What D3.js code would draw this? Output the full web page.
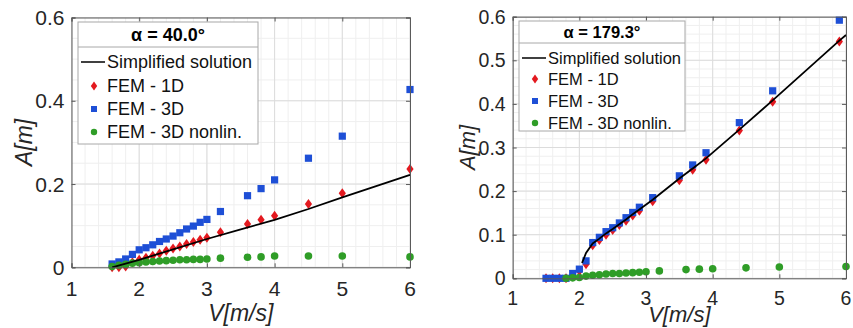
<!DOCTYPE html>
<html>
<head>
<meta charset="utf-8">
<script src="https://cdn.jsdelivr.net/npm/d3@7"></script>
<style>
  body { margin: 0; background: #fff; }
  text { font-family: "Liberation Sans", Arial, sans-serif; }
</style>
</head>
<body>
<script>
// Left panel (alpha = 40.0 deg)
var leftV = [1.6, 1.7, 1.8, 1.9, 2.0, 2.1, 2.2, 2.3, 2.4, 2.5, 2.6, 2.7, 2.8, 2.9, 3.0, 3.2, 3.6, 3.8, 4.0, 4.5, 5.0, 6.0];
var left1D = [0, 0, 0.002, 0.012, 0.018, 0.023, 0.028, 0.033, 0.040, 0.045, 0.050, 0.056, 0.061, 0.066, 0.071, 0.084, 0.104, 0.114, 0.124, 0.152, 0.178, 0.236];
var left3D = [0.008, 0.013, 0.020, 0.031, 0.042, 0.047, 0.054, 0.062, 0.068, 0.075, 0.083, 0.092, 0.099, 0.108, 0.115, 0.134, 0.172, 0.189, 0.210, 0.262, 0.315, 0.427];
var leftNonlin = [0.002, 0.005, 0.007, 0.010, 0.011, 0.013, 0.014, 0.015, 0.016, 0.017, 0.018, 0.018, 0.019, 0.019, 0.020, 0.022, 0.024, 0.025, 0.027, 0.027, 0.027, 0.025];
var leftLineV = [1.6, 1.8, 2.0, 2.5, 3.0, 3.5, 4.0, 4.5, 5.0, 5.5, 6.0];
var leftLineA = [0.0, 0.009, 0.018, 0.043, 0.068, 0.091, 0.114, 0.140, 0.168, 0.195, 0.222];

// Right panel (alpha = 179.3 deg)
var rightV = [1.5, 1.6, 1.7, 1.8, 1.9, 2.0, 2.1, 2.2, 2.3, 2.4, 2.5, 2.6, 2.7, 2.8, 2.9, 3.1, 3.5, 3.7, 3.9, 4.4, 4.9, 5.9];
var right1D = [0, 0, 0, 0, 0.006, 0.017, 0.032, 0.076, 0.088, 0.100, 0.111, 0.122, 0.132, 0.144, 0.155, 0.177, 0.225, 0.249, 0.272, 0.339, 0.405, 0.543];
var right3D = [0, 0, 0, 0, 0.011, 0.021, 0.040, 0.082, 0.094, 0.107, 0.116, 0.127, 0.139, 0.151, 0.163, 0.185, 0.235, 0.260, 0.288, 0.357, 0.430, 0.592];
var rightNonlinV = [1.8, 1.9, 2.0, 2.1, 2.2, 2.3, 2.4, 2.5, 2.6, 2.7, 2.8, 2.9, 3.0, 3.2, 3.6, 3.8, 4.0, 4.5, 5.0, 6.0];
var rightNonlin = [0.0, 0.001, 0.002, 0.005, 0.007, 0.008, 0.010, 0.011, 0.011, 0.012, 0.013, 0.014, 0.015, 0.017, 0.020, 0.021, 0.022, 0.024, 0.026, 0.027];
var rightLineV = [2.04, 2.1, 2.2, 2.3, 2.4, 2.5, 2.6, 2.7, 2.8, 2.9, 3.1, 3.5, 3.7, 3.9, 4.4, 4.9, 5.9, 6.0];
var rightLineA = [0.035, 0.058, 0.080, 0.091, 0.103, 0.113, 0.124, 0.135, 0.147, 0.158, 0.180, 0.229, 0.252, 0.275, 0.341, 0.408, 0.545, 0.558];

var xTicks = [1, 2, 3, 4, 5, 6];
var leftYTicks = [0, 0.2, 0.4, 0.6];
var rightYTicks = [0, 0.1, 0.2, 0.3, 0.4, 0.5, 0.6];
var legendNames = ['Simplified solution', 'FEM - 1D', 'FEM - 3D', 'FEM - 3D nonlin.'];

var red = '#e3191f', blue = '#1e4fd6', green = '#2f9d27';

var svg = d3.select('body').append('svg')
    .attr('width', 853)
    .attr('height', 328);

// diamond marker path, half width w and half height h
function diamond(w, h) {
    return `M0,${-h}L${w},0L0,${h}L${-w},0Z`;
}

function drawPanel(p) {
    var x = d3.scaleLinear().domain([1, 6]).range([p.left, p.right]);
    var y = d3.scaleLinear().domain([0, 0.6]).range([p.bottom, p.top]);
    var g = svg.append('g');

    // minor grid
    g.append('g').selectAll('line')
        .data(d3.range(1, 6.001, 0.2))
        .enter().append('line')
        .attr('x1', d => x(d)).attr('x2', d => x(d))
        .attr('y1', p.top).attr('y2', p.bottom)
        .attr('stroke', '#efefef').attr('stroke-width', 1);
    g.append('g').selectAll('line')
        .data(d3.range(0, 0.6001, p.minorY))
        .enter().append('line')
        .attr('x1', p.left).attr('x2', p.right)
        .attr('y1', d => y(d)).attr('y2', d => y(d))
        .attr('stroke', '#efefef').attr('stroke-width', 1);
    // major grid
    g.append('g').selectAll('line')
        .data(xTicks)
        .enter().append('line')
        .attr('x1', d => x(d)).attr('x2', d => x(d))
        .attr('y1', p.top).attr('y2', p.bottom)
        .attr('stroke', '#dcdcdc').attr('stroke-width', 1);
    g.append('g').selectAll('line')
        .data(p.yTicks)
        .enter().append('line')
        .attr('x1', p.left).attr('x2', p.right)
        .attr('y1', d => y(d)).attr('y2', d => y(d))
        .attr('stroke', '#dcdcdc').attr('stroke-width', 1);

    // red diamonds
    g.append('g').selectAll('path')
        .data(p.v1)
        .enter().append('path')
        .attr('d', diamond(3.6, 5))
        .attr('transform', (d, i) => `translate(${x(d)},${y(p.a1[i])})`)
        .attr('fill', red);

    // blue squares
    g.append('g').selectAll('rect')
        .data(p.v3)
        .enter().append('rect')
        .attr('x', d => x(d) - 3.6)
        .attr('y', (d, i) => y(p.a3[i]) - 3.6)
        .attr('width', 7.2).attr('height', 7.2)
        .attr('fill', blue);

    // green circles
    g.append('g').selectAll('circle')
        .data(p.vn)
        .enter().append('circle')
        .attr('cx', d => x(d))
        .attr('cy', (d, i) => y(p.an[i]))
        .attr('r', 3.8)
        .attr('fill', green);

    // simplified solution
    var line = d3.line()
        .x(d => x(d[0]))
        .y(d => y(d[1]));
    g.append('path')
        .datum(p.lineV.map((v, i) => [v, p.lineA[i]]))
        .attr('d', line)
        .attr('fill', 'none')
        .attr('stroke', '#000')
        .attr('stroke-width', 1.8);

    // axes (box with inward ticks)
    var axisColor = '#5a5a5a';
    g.append('g').attr('transform', `translate(0,${p.bottom})`)
        .call(d3.axisBottom(x).tickValues(xTicks).tickSize(-4).tickFormat(''));
    g.append('g').attr('transform', `translate(0,${p.top})`)
        .call(d3.axisTop(x).tickValues(xTicks).tickSize(-4).tickFormat(''));
    g.append('g').attr('transform', `translate(${p.left},0)`)
        .call(d3.axisLeft(y).tickValues(p.yTicks).tickSize(-4).tickFormat(''));
    g.append('g').attr('transform', `translate(${p.right},0)`)
        .call(d3.axisRight(y).tickValues(p.yTicks).tickSize(-4).tickFormat(''));
    g.selectAll('.domain, .tick line').attr('stroke', axisColor);

    // tick labels
    g.append('g').selectAll('text')
        .data(xTicks)
        .enter().append('text')
        .attr('x', d => x(d))
        .attr('y', p.bottom + p.xLabelDy)
        .attr('text-anchor', 'middle')
        .attr('font-size', p.tickFont)
        .attr('fill', '#262626')
        .text(d => d);
    g.append('g').selectAll('text')
        .data(p.yTicks)
        .enter().append('text')
        .attr('x', p.left - 7)
        .attr('y', d => y(d))
        .attr('dy', '0.36em')
        .attr('text-anchor', 'end')
        .attr('font-size', p.tickFont)
        .attr('fill', '#262626')
        .text(d => d === 0 ? '0' : d3.format('.1f')(d));

    // axis titles
    g.append('text')
        .attr('x', (p.left + p.right) / 2)
        .attr('y', p.xTitleY)
        .attr('text-anchor', 'middle')
        .attr('font-size', p.titleFont)
        .attr('font-style', 'italic')
        .attr('fill', '#262626')
        .text('V[m/s]');
    g.append('text')
        .attr('transform', `translate(${p.yTitleX},${(p.top + p.bottom) / 2}) rotate(-90)`)
        .attr('text-anchor', 'middle')
        .attr('font-size', p.titleFont)
        .attr('font-style', 'italic')
        .attr('fill', '#262626')
        .text('A[m]');

    // legend
    var L = p.legend;
    var lg = g.append('g');
    lg.append('rect')
        .attr('x', L.x).attr('y', L.y)
        .attr('width', L.w).attr('height', L.h)
        .attr('fill', '#fff').attr('stroke', '#a8a8a8');
    lg.append('line')
        .attr('x1', L.x).attr('x2', L.x + L.w)
        .attr('y1', L.sep).attr('y2', L.sep)
        .attr('stroke', '#a8a8a8');
    lg.append('text')
        .attr('x', L.x + L.w / 2)
        .attr('y', (L.y + L.sep) / 2)
        .attr('dy', '0.36em')
        .attr('text-anchor', 'middle')
        .attr('font-size', L.font)
        .attr('font-weight', 'bold')
        .text(p.title);
    legendNames.forEach(function(name, i) {
        var cy = L.rows[i];
        var mx = L.x + 16;
        if (i === 0) {
            lg.append('line')
                .attr('x1', L.x + 3).attr('x2', L.x + 27)
                .attr('y1', cy).attr('y2', cy)
                .attr('stroke', '#000').attr('stroke-width', 1.5);
        } else if (i === 1) {
            lg.append('path')
                .attr('d', diamond(3.2, 4.5))
                .attr('transform', `translate(${mx},${cy})`)
                .attr('fill', red);
        } else if (i === 2) {
            lg.append('rect')
                .attr('x', mx - 3).attr('y', cy - 3)
                .attr('width', 6).attr('height', 6)
                .attr('fill', blue);
        } else {
            lg.append('circle')
                .attr('cx', mx).attr('cy', cy).attr('r', 3.2)
                .attr('fill', green);
        }
        lg.append('text')
            .attr('x', L.x + 29)
            .attr('y', cy)
            .attr('dy', '0.36em')
            .attr('font-size', L.font)
            .attr('fill', '#111')
            .text(name);
    });
}

drawPanel({
    left: 71.5, right: 410, top: 17.5, bottom: 267.3,
    yTicks: leftYTicks, minorY: 0.05,
    v1: leftV, a1: left1D, v3: leftV, a3: left3D, vn: leftV, an: leftNonlin,
    lineV: leftLineV, lineA: leftLineA,
    tickFont: 21, titleFont: 23, xLabelDy: 29, xTitleY: 321, yTitleX: 32,
    title: 'α = 40.0°',
    legend: { x: 78, y: 22, w: 180, h: 122, sep: 47, rows: [62, 86, 109, 132], font: 18 }
});

drawPanel({
    left: 512.7, right: 846, top: 16.7, bottom: 278.3,
    yTicks: rightYTicks, minorY: 0.02,
    v1: rightV, a1: right1D, v3: rightV, a3: right3D, vn: rightNonlinV, an: rightNonlin,
    lineV: rightLineV, lineA: rightLineA,
    tickFont: 19.5, titleFont: 22, xLabelDy: 27, xTitleY: 322, yTitleX: 475,
    title: 'α = 179.3°',
    legend: { x: 519, y: 21, w: 166, h: 110, sep: 43, rows: [58, 79, 101, 123], font: 16.5 }
});
</script>
</body>
</html>
